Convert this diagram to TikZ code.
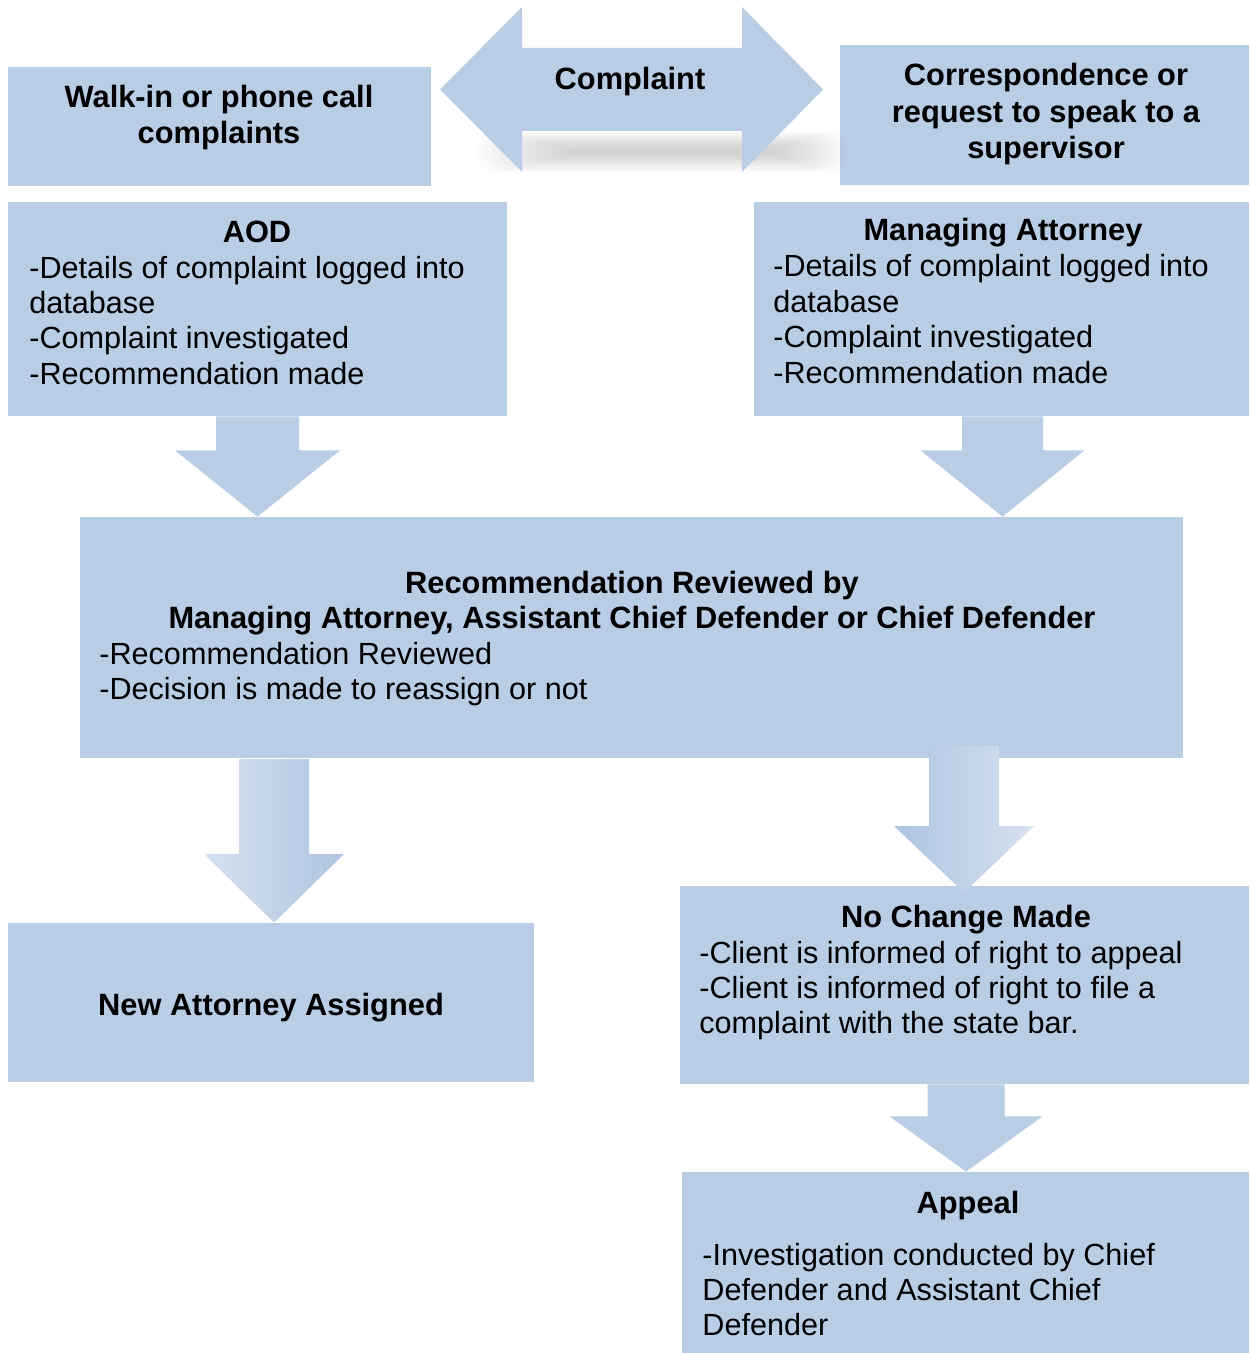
\documentclass[tikz,border=0pt]{standalone}
\usepackage{fontspec}
\setmainfont{Liberation Sans}
\usetikzlibrary{fit,calc}
\definecolor{boxblue}{HTML}{B9CDE5}
\definecolor{gradlight}{HTML}{D6E1EF}
\definecolor{graddark}{HTML}{AEC4E1}
\begin{document}
\begin{tikzpicture}[x=0.5pt,y=-0.5pt,
  box/.style={fill=boxblue, draw=none, inner sep=0pt},
  txt/.style={inner sep=0pt, font=\fontsize{15.3}{18}\selectfont},
  btxt/.style={inner sep=0pt, font=\fontsize{15.4}{18}\selectfont\bfseries},
  blockfill/.style={fill=boxblue}]
\useasboundingbox (0,0) rectangle (1249,1353);

% ---- boxes
\node[box, fit={(8,67) (431,186)}] (walk) {};
\node[box, fit={(840,45) (1249,185)}] (corr) {};
\node[box, fit={(8,202) (507,416)}] (aod) {};
\node[box, fit={(754,202) (1249,416)}] (ma) {};
\node[box, fit={(80,517) (1183,758)}] (review) {};
\node[box, fit={(8,923) (534,1082)}] (newatt) {};
\node[box, fit={(680,886) (1249,1084)}] (nochange) {};
\node[box, fit={(682,1172) (1249,1353)}] (appeal) {};

% ---- complaint double arrow with soft shadow
\foreach \i in {0,...,11}
  \draw[black, opacity=0.016, line cap=round, line width={(20-1.5*\i)*1pt}]
    (495+7*\i,152) -- (828-5*\i,152);
\fill[blockfill] (440,89.5) -- (522,7) -- (522,48) -- (742,48) -- (742,7) -- (823,89.5)
  -- (742,172) -- (742,131) -- (522,131) -- (522,172) -- cycle;
\node[btxt, anchor=base] (complaint) at (630,90) {Complaint};

% ---- connector arrows
\fill[blockfill] ($(aod.south)+(-41.5,0)$) -- ($(aod.south)+(41.5,0)$) -- ($(aod.south)+(41.5,34)$)
  -- ($(aod.south)+(82.5,34)$) -- (aod.south |- review.north) -- ($(aod.south)+(-82.5,34)$)
  -- ($(aod.south)+(-41.5,34)$) -- cycle;
\coordinate (mtop) at ($(ma.south)+(1,0)$);
\fill[blockfill] ($(mtop)+(-40.5,0)$) -- ($(mtop)+(40.5,0)$) -- ($(mtop)+(40.5,34)$)
  -- ($(mtop)+(82,34)$) -- (mtop |- review.north) -- ($(mtop)+(-82,34)$)
  -- ($(mtop)+(-40.5,34)$) -- cycle;
\coordinate (la) at (274,759);
\shade[left color=gradlight, right color=graddark] ($(la)+(-35,0)$) -- ($(la)+(35,0)$) -- ($(la)+(35,95)$)
  -- ($(la)+(70,95)$) -- (la |- newatt.north) -- ($(la)+(-70,95)$) -- ($(la)+(-35,95)$) -- cycle;
\coordinate (ra) at (964,746);
\shade[left color=graddark, right color=gradlight] ($(ra)+(-35,0)$) -- ($(ra)+(35,0)$) -- ($(ra)+(35,80)$)
  -- ($(ra)+(70,80)$) -- ($(ra |- nochange.north)+(0,7)$) -- ($(ra)+(-70,80)$) -- ($(ra)+(-35,80)$) -- cycle;
\coordinate (na) at ($(nochange.south)+(1.5,0)$);
\fill[blockfill] ($(na)+(-38.5,0)$) -- ($(na)+(38.5,0)$) -- ($(na)+(38.5,32)$)
  -- ($(na)+(76.5,32)$) -- (na |- appeal.north) -- ($(na)+(-76.5,32)$)
  -- ($(na)+(-38.5,32)$) -- cycle;

% ---- texts
\node[btxt, anchor=base] (w1) at (219,108) {Walk-in or phone call};
\node[btxt, anchor=base] (w2) at (219,144) {complaints};

\node[btxt, anchor=base] (c1) at (1046,86) {Correspondence or};
\node[btxt, anchor=base] (c2) at (1046,123) {request to speak to a};
\node[btxt, anchor=base] (c3) at (1046,159) {supervisor};

\node[btxt, anchor=base] (a0) at (257,243) {AOD};
\node[txt, anchor=base west] (a1) at (29,279) {-Details of complaint logged into};
\node[txt, anchor=base west] (a2) at (29,314) {database};
\node[txt, anchor=base west] (a3) at (29,349) {-Complaint investigated};
\node[txt, anchor=base west] (a4) at (29,385) {-Recommendation made};

\node[btxt, anchor=base] (m0) at (1003,241) {Managing Attorney};
\node[txt, anchor=base west] (m1) at (773,277) {-Details of complaint logged into};
\node[txt, anchor=base west] (m2) at (773,313) {database};
\node[txt, anchor=base west] (m3) at (773,348) {-Complaint investigated};
\node[txt, anchor=base west] (m4) at (773,383) {-Recommendation made};

\node[btxt, anchor=base] (r1) at (632,593) {Recommendation Reviewed by};
\node[btxt, anchor=base] (r2) at (632,628) {Managing Attorney, Assistant Chief Defender or Chief Defender};
\node[txt, anchor=base west] (r3) at (99,664) {-Recommendation Reviewed};
\node[txt, anchor=base west] (r4) at (99,699) {-Decision is made to reassign or not};

\node[btxt, anchor=base] (n0) at (271,1015) {New Attorney Assigned};

\node[btxt, anchor=base] (k0) at (966,927) {No Change Made};
\node[txt, anchor=base west] (k1) at (699,963) {-Client is informed of right to appeal};
\node[txt, anchor=base west] (k2) at (699,998) {-Client is informed of right to file a};
\node[txt, anchor=base west] (k3) at (699,1033) {complaint with the state bar.};

\node[btxt, anchor=base] (p0) at (968,1213) {Appeal};
\node[txt, anchor=base west] (p1) at (702,1265) {-Investigation conducted by Chief};
\node[txt, anchor=base west] (p2) at (702,1300) {Defender and Assistant Chief};
\node[txt, anchor=base west] (p3) at (702,1335) {Defender};
\end{tikzpicture}
\end{document}
